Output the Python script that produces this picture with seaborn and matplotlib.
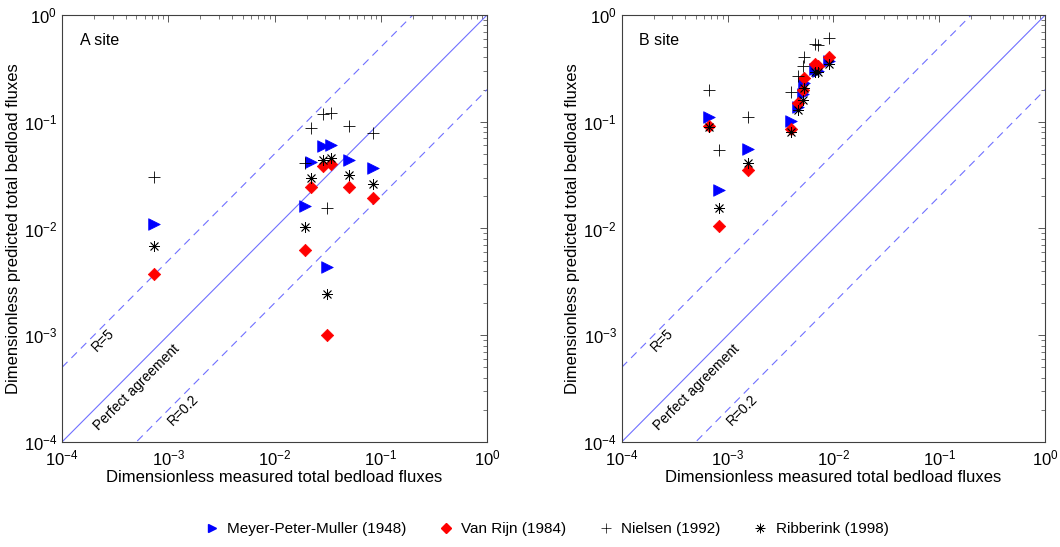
import numpy as np
import pandas as pd
import matplotlib
matplotlib.use("Agg")
import matplotlib.pyplot as plt
from matplotlib.lines import Line2D
from matplotlib.ticker import LogLocator, NullFormatter
import seaborn as sns

sns.set_style("white")
plt.rcParams['font.family'] = ['Liberation Sans', 'DejaVu Sans']
plt.rcParams['text.color'] = 'black'
plt.rcParams['axes.labelcolor'] = 'black'

# measured values for each station
a_measured = [7.4e-4, 0.0194, 0.0219, 0.0284, 0.0338, 0.031, 0.0506, 0.084]
a_mpm = [0.011, 0.0162, 0.042, 0.0593, 0.0605, 0.00439, 0.0438, 0.0366]
a_vanrijn = [0.00375, 0.0063, 0.0243, 0.0385, 0.0402, 0.001, 0.0247, 0.0194]
a_nielsen = [0.0306, 0.041, 0.088, 0.118, 0.12, 0.0155, 0.091, 0.079]
a_ribberink = [0.00686, 0.0104, 0.0295, 0.0438, 0.0454, 0.00243, 0.0317, 0.0261]

b_measured = [6.7e-4, 8.3e-4, 1.57e-3, 3.95e-3, 4.63e-3, 5.1e-3, 5.3e-3, 6.7e-3, 7.1e-3, 9.1e-3]
b_mpm = [0.11, 0.023, 0.055, 0.102, 0.138, 0.182, 0.232, 0.31, 0.30, 0.37]
b_vanrijn = [0.091, 0.0105, 0.035, 0.085, 0.149, 0.198, 0.255, 0.345, 0.33, 0.40]
b_nielsen = [0.20, 0.054, 0.11, 0.19, 0.27, 0.33, 0.40, 0.54, 0.52, 0.61]
b_ribberink = [0.09, 0.0157, 0.041, 0.081, 0.13, 0.16, 0.205, 0.294, 0.29, 0.345]

formulas = ['Meyer-Peter-Muller (1948)', 'Van Rijn (1984)', 'Nielsen (1992)', 'Ribberink (1998)']
colors = ['#0000ff', '#ff0000', 'black', 'black']
markers = ['>', 'D', '+', (8, 2, 0)]
sizes = [70, 40, 80, 55]

def make_frame(measured, preds):
    rows = []
    for name, vals in zip(formulas, preds):
        for m, p in zip(measured, vals):
            rows.append({'measured': m, 'predicted': p, 'formula': name})
    return pd.DataFrame(rows)

df_a = make_frame(a_measured, [a_mpm, a_vanrijn, a_nielsen, a_ribberink])
df_b = make_frame(b_measured, [b_mpm, b_vanrijn, b_nielsen, b_ribberink])

fig = plt.figure(figsize=(10.6, 5.47), dpi=100)
ax_a = fig.add_axes([0.0585, 0.192, 0.401, 0.7806])
ax_b = fig.add_axes([0.5865, 0.192, 0.3996, 0.7806])

line_col = '#7070ff'
xx = np.array([1e-4, 1.0])

def draw_panel(ax, df, site):
    # reference lines
    ax.plot(xx, xx, color=line_col, lw=0.8)
    ax.plot(xx, 5 * xx, color=line_col, lw=0.8, dashes=(7, 5))
    ax.plot(xx, 0.2 * xx, color=line_col, lw=0.8, dashes=(7, 5))
    for name, c, mk, s in zip(formulas, colors, markers, sizes):
        sub = df[df['formula'] == name]
        if mk in ['+', (8, 2, 0)]:
            sns.scatterplot(data=sub, x='measured', y='predicted', ax=ax, marker=mk,
                            color=c, s=s, linewidth=0.6, legend=False, zorder=3)
        else:
            sns.scatterplot(data=sub, x='measured', y='predicted', ax=ax, marker=mk,
                            color=c, s=s, edgecolor=c, linewidth=0.5, legend=False, zorder=3)
    ax.set_xscale('log')
    ax.set_yscale('log')
    ax.set_xlim(1e-4, 1)
    ax.set_ylim(1e-4, 1)
    ax.xaxis.set_major_locator(LogLocator(base=10, numticks=10))
    ax.yaxis.set_major_locator(LogLocator(base=10, numticks=10))
    ax.xaxis.set_minor_locator(LogLocator(base=10, subs=np.arange(2, 10), numticks=10))
    ax.yaxis.set_minor_locator(LogLocator(base=10, subs=np.arange(2, 10), numticks=10))
    ax.xaxis.set_minor_formatter(NullFormatter())
    ax.yaxis.set_minor_formatter(NullFormatter())
    ax.tick_params(which='both', direction='in', top=True, right=True, colors='#404040',
                   labelcolor='black', labelsize=12)
    ax.tick_params(which='major', length=5, width=0.6)
    ax.tick_params(which='minor', length=3, width=0.5)
    ax.tick_params(axis='x', which='major', pad=5)
    for sp in ax.spines.values():
        sp.set_color('#404040')
        sp.set_linewidth(0.8)
    ax.set_xlabel('Dimensionless measured total bedload fluxes', fontsize=12, labelpad=1)
    ax.set_ylabel('Dimensionless predicted total bedload fluxes', fontsize=12, labelpad=2)
    ax.text(0.042, 0.94, site, transform=ax.transAxes, fontsize=11.5, va='center', ha='left')
    ax.text(2.43e-4, 9e-4, 'R=5', rotation=45, fontsize=10, ha='center', va='center')
    ax.text(5.08e-4, 3.27e-4, 'Perfect agreement', rotation=45, fontsize=10, ha='center', va='center')
    ax.text(1.38e-3, 2e-4, 'R=0.2', rotation=45, fontsize=10, ha='center', va='center')

draw_panel(ax_a, df_a, 'A site')
draw_panel(ax_b, df_b, 'B site')

handles = []
for name, c, mk in zip(formulas, colors, markers):
    if mk in ['+', (8, 2, 0)]:
        handles.append(Line2D([], [], ls='none', marker=mk, color=c, markersize=7,
                              markeredgewidth=0.5, label=name))
    else:
        handles.append(Line2D([], [], ls='none', marker=mk, color=c,
                              markersize=6 if mk == '>' else 5, label=name))
fig.legend(handles=handles, loc='center', bbox_to_anchor=(0.516, 0.032), ncol=4,
           frameon=False, fontsize=11, handlelength=0.8, handletextpad=0.6,
           columnspacing=2.2)

fig.savefig('out.png', dpi=100)
